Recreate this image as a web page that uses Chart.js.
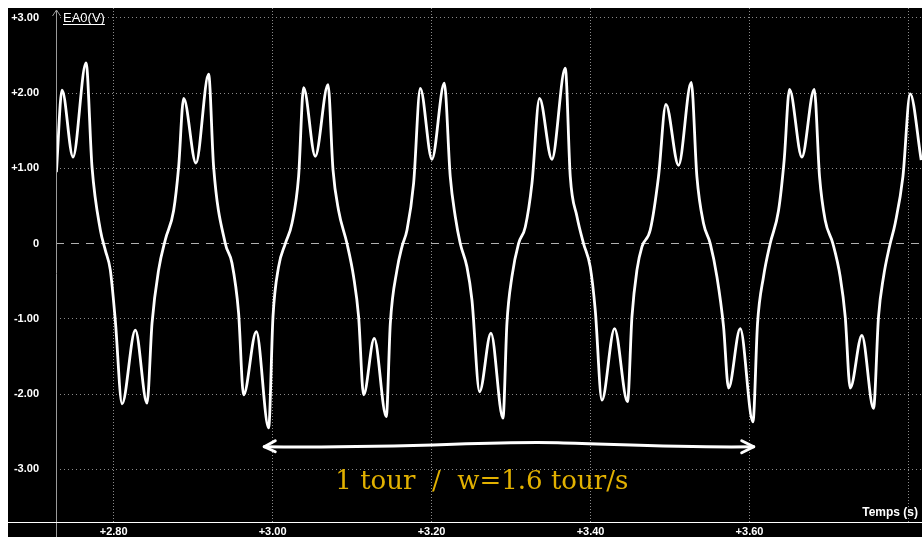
<!DOCTYPE html>
<html>
<head>
<meta charset="utf-8">
<script src="https://cdn.jsdelivr.net/npm/chart.js@4/dist/chart.umd.min.js"></script>
<style>
  html, body { background: #fff; overflow: hidden; }
  body { margin: 8px 0 0 8px; }
  canvas { display: block; }
</style>
</head>
<body>
<canvas id="scope" width="914" height="529"></canvas>
<script>
// time (s) and voltage (V)
const tSec = [
  2.7280, 2.7351, 2.7489, 2.7653, 2.7728, 2.7833, 2.7896, 2.7958, 2.8021, 2.8106,
  2.8273, 2.8420, 2.8483, 2.8566, 2.8650, 2.8755, 2.8818, 2.8881, 2.9036, 2.9195,
  2.9258, 2.9405, 2.9489, 2.9572, 2.9635, 2.9795, 2.9950, 3.0005, 3.0075, 3.0160,
  3.0244, 3.0327, 3.0390, 3.0537, 3.0697, 3.0760, 3.0830, 3.0936, 3.1019, 3.1082,
  3.1145, 3.1279, 3.1430, 3.1481, 3.1565, 3.1628, 3.1691, 3.1774, 3.1858, 3.2005,
  3.2160, 3.2235, 3.2298, 3.2361, 3.2445, 3.2508, 3.2604, 3.2747, 3.2898, 3.2948,
  3.3011, 3.3094, 3.3179, 3.3263, 3.3358, 3.3514, 3.3682, 3.3745, 3.3829, 3.3912,
  3.3996, 3.4059, 3.4143, 3.4302, 3.4465, 3.4521, 3.4584, 3.4647, 3.4751, 3.4855,
  3.4948, 3.5107, 3.5267, 3.5338, 3.5421, 3.5506, 3.5590, 3.5673, 3.5736, 3.5883,
  3.6043, 3.6101, 3.6176, 3.6260, 3.6365, 3.6436, 3.6503, 3.6659, 3.6814, 3.6881,
  3.6952, 3.7049, 3.7141, 3.7204, 3.7267, 3.7414, 3.7560, 3.7623, 3.7686, 3.7761,
  3.7833, 3.7930, 3.8021, 3.8160
];
const volts = [
  0.95, 2.04, 1.15, 2.40, 1.02, 0.18, -0.09, -0.35, -1.02, -2.13,
  -1.15, -2.12, -1.06, -0.35, 0.05, 0.44, 1.02, 1.93, 1.07, 2.25,
  1.02, 0.00, -0.26, -0.92, -2.01, -1.17, -2.45, -0.97, -0.31, 0.00,
  0.27, 0.89, 2.07, 1.16, 2.11, 0.98, 0.44, 0.00, -0.44, -0.97,
  -2.01, -1.26, -2.30, -1.06, -0.35, -0.04, 0.18, 0.80, 2.06, 1.12,
  2.13, 0.89, 0.36, 0.00, -0.31, -0.75, -1.97, -1.19, -2.32, -1.06,
  -0.44, 0.00, 0.22, 0.80, 1.93, 1.12, 2.33, 0.89, 0.36, 0.00,
  -0.31, -0.88, -2.08, -1.13, -2.10, -0.97, -0.35, -0.04, 0.18, 0.89,
  1.85, 1.04, 2.14, 0.89, 0.27, 0.00, -0.44, -1.10, -1.92, -1.13,
  -2.37, -1.06, -0.44, 0.00, 0.44, 1.11, 2.05, 1.15, 2.05, 0.89,
  0.31, 0.00, -0.44, -0.97, -1.92, -1.22, -2.19, -0.97, -0.44, -0.04,
  0.27, 0.89, 1.99, 1.11
];

const xTicks = [2.8, 3.0, 3.2, 3.4, 3.6, 3.8];
const xLabels = ['+2.80', '+3.00', '+3.20', '+3.40', '+3.60', ''];
const yTicks = [-3, -2, -1, 0, 1, 2, 3];
const yLabels = ['-3.00', '-2.00', '-1.00', '0', '+1.00', '+2.00', '+3.00'];

// "1 tour" marker: from / to (s), height (V), caption
const tourStart = 2.9895;
const tourEnd = 3.6053;
const tourLevel = -2.70;
const tourText = '1 tour  /  w=1.6 tour/s';
const tourTextPos = [3.2632, -3.167];

const points = tSec.map((t, i) => ({ x: t, y: volts[i] }));

function labelFor(list, labels, value) {
  const i = list.findIndex(v => Math.abs(v - value) < 1e-6);
  return i < 0 ? '' : labels[i];
}

const scopeDeco = {
  id: 'scopeDeco',
  beforeDraw(chart) {
    const ctx = chart.ctx;
    ctx.save();
    ctx.fillStyle = '#000';
    ctx.fillRect(0, 0, chart.width, chart.height);
    ctx.restore();
  },
  afterDraw(chart) {
    const ctx = chart.ctx;
    const area = chart.chartArea;
    const xs = chart.scales.x, ys = chart.scales.y;
    ctx.save();

    // axes lines
    ctx.strokeStyle = '#9a9a9a';
    ctx.lineWidth = 1;
    ctx.beginPath();
    ctx.moveTo(area.left + 0.5, 2);
    ctx.lineTo(area.left + 0.5, chart.height);
    ctx.moveTo(area.left - 3.5, 8);
    ctx.lineTo(area.left + 0.5, 2);
    ctx.lineTo(area.left + 4.5, 8);
    ctx.stroke();
    ctx.strokeStyle = '#fff';
    ctx.beginPath();
    ctx.moveTo(0, area.bottom + 0.5);
    ctx.lineTo(chart.width, area.bottom + 0.5);
    ctx.stroke();

    // axis names
    ctx.fillStyle = '#fff';
    ctx.font = '13px "Liberation Sans", Arial, sans-serif';
    ctx.textBaseline = 'alphabetic';
    ctx.textAlign = 'left';
    const nameX = area.left + 7;
    ctx.fillText('EA0(V)', nameX, 14);
    const w = ctx.measureText('EA0(V)').width;
    ctx.fillRect(nameX, 16, w, 1);
    ctx.font = 'bold 12px "Liberation Sans", Arial, sans-serif';
    ctx.textAlign = 'right';
    ctx.fillText('Temps (s)', chart.width - 4, area.bottom - 6);

    // hand-drawn double arrow
    const x0 = xs.getPixelForValue(tourStart);
    const x1 = xs.getPixelForValue(tourEnd);
    const yA = ys.getPixelForValue(tourLevel);
    const len = x1 - x0;
    ctx.strokeStyle = '#fff';
    ctx.lineWidth = 3;
    ctx.lineCap = 'round';
    ctx.lineJoin = 'round';
    ctx.beginPath();
    ctx.moveTo(x0, yA);
    ctx.bezierCurveTo(x0 + len * 0.3, yA + 2, x0 + len * 0.45, yA - 6, x0 + len * 0.6, yA - 4);
    ctx.bezierCurveTo(x0 + len * 0.75, yA - 2, x0 + len * 0.85, yA + 1, x1, yA);
    ctx.stroke();
    ctx.beginPath();
    ctx.moveTo(x0 + 11, yA - 6);
    ctx.lineTo(x0, yA);
    ctx.lineTo(x0 + 11, yA + 5);
    ctx.moveTo(x1 - 12, yA - 6);
    ctx.lineTo(x1, yA);
    ctx.lineTo(x1 - 12, yA + 6);
    ctx.stroke();

    // caption
    ctx.fillStyle = '#e2b100';
    ctx.font = '26px "DejaVu Serif", serif';
    ctx.textAlign = 'center';
    ctx.textBaseline = 'middle';
    ctx.fillText(tourText, xs.getPixelForValue(tourTextPos[0]), ys.getPixelForValue(tourTextPos[1]));
    ctx.restore();
  }
};

new Chart(document.getElementById('scope'), {
  type: 'line',
  data: {
    datasets: [{
      data: points,
      borderColor: '#fff',
      borderWidth: 2.8,
      pointRadius: 0,
      cubicInterpolationMode: 'monotone',
      fill: false
    }]
  },
  options: {
    responsive: false,
    animation: false,
    layout: { padding: 0 },
    plugins: { legend: { display: false }, tooltip: { enabled: false } },
    scales: {
      x: {
        type: 'linear',
        min: 2.7275,
        max: 3.817,
        afterBuildTicks: s => { s.ticks = xTicks.map(v => ({ value: v })); },
        afterFit: s => { s.height = 15; s.paddingLeft = 0; s.paddingRight = 0; },
        grid: { color: '#8a8a8a', drawTicks: false },
        border: { display: false, dash: [1, 2] },
        ticks: {
          color: '#fff',
          padding: 3,
          maxRotation: 0,
          autoSkip: false,
          font: { family: '"Liberation Sans", Arial, sans-serif', size: 11, weight: 'bold' },
          callback: v => labelFor(xTicks, xLabels, v)
        }
      },
      y: {
        min: -3.70,
        max: 3.13,
        afterBuildTicks: s => { s.ticks = yTicks.map(v => ({ value: v })); },
        afterFit: s => { s.width = 48; s.paddingTop = 0; s.paddingBottom = 0; },
        grid: {
          color: c => c.tick && c.tick.value === 0 ? '#b0b0b0' : '#8a8a8a',
          drawTicks: false
        },
        border: {
          display: false,
          dash: c => c.tick && c.tick.value === 0 ? [8, 7] : [1, 3]
        },
        ticks: {
          color: '#fff',
          padding: 17,
          autoSkip: false,
          font: { family: '"Liberation Sans", Arial, sans-serif', size: 11, weight: 'bold' },
          callback: v => labelFor(yTicks, yLabels, v)
        }
      }
    }
  },
  plugins: [scopeDeco]
});
</script>
</body>
</html>
